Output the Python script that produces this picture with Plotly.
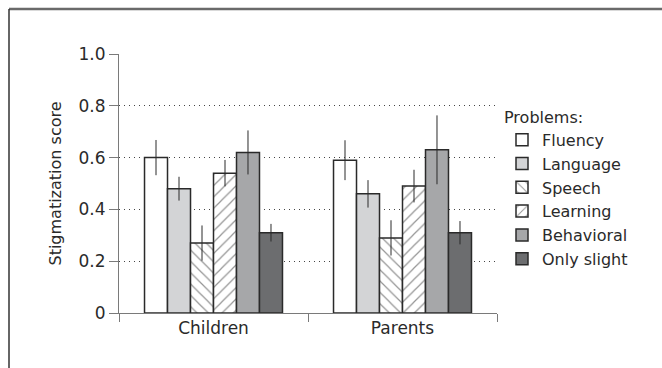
import plotly.graph_objects as go

# Stigmatization scores by respondent group and problem type
groups = ["Children", "Parents"]
problems = ["Fluency", "Language", "Speech", "Learning", "Behavioral", "Only slight"]

fluency = [0.60, 0.59]
language = [0.48, 0.46]
speech = [0.27, 0.29]
learning = [0.54, 0.49]
behavioral = [0.62, 0.63]
only_slight = [0.31, 0.31]

fluency_err = [0.068, 0.077]
language_err = [0.046, 0.053]
speech_err = [0.068, 0.068]
learning_err = [0.051, 0.063]
behavioral_err = [0.085, 0.133]
only_slight_err = [0.034, 0.045]

y_ticks = [0, 0.2, 0.4, 0.6, 0.8, 1.0]
y_ticktext = ["0", "0.2", "0.4", "0.6", "0.8", "1.0"]

values = [fluency, language, speech, learning, behavioral, only_slight]
errors = [fluency_err, language_err, speech_err, learning_err, behavioral_err, only_slight_err]
fills = ["#ffffff", "#d3d4d6", "#ffffff", "#ffffff", "#a6a7a9", "#6c6d6f"]
patterns = ["", "", "\\", "/", "", ""]

FONT = "DejaVu Sans"
INK = "#2a2a2a"

fig = go.Figure()
for i, name in enumerate(problems):
    fig.add_trace(go.Bar(
        name=name,
        x=groups,
        y=values[i],
        legendgroup=name,
        marker=dict(
            color=fills[i],
            line=dict(color=INK, width=1.5),
            pattern=dict(shape=patterns[i], fgcolor=INK, bgcolor="#ffffff",
                         size=8, solidity=0.15, fillmode="overlay"),
        ),
        error_y=dict(type="data", array=errors[i], width=0, thickness=1, color=INK),
    ))

W, H = 662, 368
ml, mr, mt, mb = 119, 165, 54, 55
pw, ph = W - ml - mr, H - mt - mb


def px(x):
    return (x - ml) / pw


def py(y):
    return (H - mb - y) / ph


fig.update_layout(
    width=W, height=H,
    margin=dict(l=ml, r=mr, t=mt, b=mb),
    paper_bgcolor="white", plot_bgcolor="white",
    font=dict(family=FONT, size=16, color=INK),
    barmode="group", bargap=0.27, bargroupgap=0,
    showlegend=True,
    legend=dict(
        title=dict(text="Problems:", font=dict(size=16)),
        x=px(502), xanchor="left", y=py(102), yanchor="top",
        font=dict(size=16), tracegroupgap=0, traceorder="normal",
        bgcolor="rgba(0,0,0,0)",
    ),
    xaxis=dict(
        showline=True, linecolor="#7a7a7a", linewidth=1,
        ticks="outside", tickson="boundaries", ticklen=8, tickcolor="#7a7a7a",
        tickfont=dict(size=17), showgrid=False, range=[-0.5, 1.5],
    ),
    yaxis=dict(
        range=[0, 1.0], tickvals=y_ticks, ticktext=y_ticktext,
        showline=True, linecolor="#7a7a7a", linewidth=1,
        ticks="outside", ticklen=9, tickcolor="#7a7a7a",
        showgrid=True, gridcolor="#444444", griddash="1px,4px", gridwidth=1,
        zeroline=False, tickfont=dict(size=17),
        title=dict(text="Stigmatization score", font=dict(size=16), standoff=12),
    ),
    shapes=[
        dict(type="line", xref="paper", yref="paper",
             x0=px(9), x1=px(W + 2), y0=py(9), y1=py(9),
             line=dict(color="#6a6a6a", width=2.5)),
        dict(type="line", xref="paper", yref="paper",
             x0=px(9), x1=px(9), y0=py(9), y1=py(H + 2),
             line=dict(color="#333333", width=1.5)),
    ],
)

fig.write_html("out.html")
